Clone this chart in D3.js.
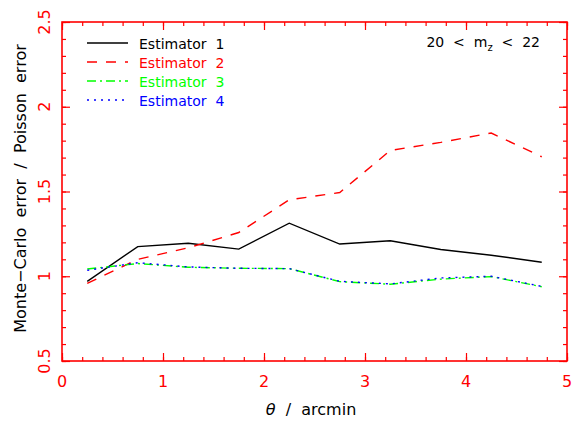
<!DOCTYPE html>
<html><head><meta charset="utf-8">
<script src="https://cdn.jsdelivr.net/npm/d3@7"></script>
<style>body{margin:0;background:#fff}svg{display:block}text{font-family:"DejaVu Sans",sans-serif;white-space:pre}</style>
</head><body>
<script>
const theta = [0.25, 0.75, 1.25, 1.75, 2.25, 2.75, 3.25, 3.75, 4.25, 4.75];
const est1 = [0.97, 1.175, 1.195, 1.16, 1.313, 1.19, 1.209, 1.158, 1.124, 1.083];
const est2 = [0.958, 1.10, 1.168, 1.258, 1.451, 1.494, 1.742, 1.79, 1.845, 1.705];
const est3 = [1.043, 1.075, 1.053, 1.047, 1.045, 0.968, 0.953, 0.983, 0.998, 0.938];
const est4 = [1.035, 1.08, 1.055, 1.047, 1.045, 0.97, 0.955, 0.99, 1.0, 0.94];
const seriesNames = ["Estimator  1", "Estimator  2", "Estimator  3", "Estimator  4"];
const seriesColors = ["#000000", "#ff0000", "#00ff00", "#0000ff"];
const seriesDash = [null, "10,9", "9,4,2,4", "2,5"];
const xTicks = [0, 1, 2, 3, 4, 5];
const yTicks = [0.5, 1, 1.5, 2, 2.5];

const W = 572, H = 422;
const L = 62, R = 567, T = 22, B = 361;
const svg = d3.select("body").append("svg").attr("width", W).attr("height", H);
const x = d3.scaleLinear().domain([0, 5]).range([L, R]);
const y = d3.scaleLinear().domain([0.5, 2.5]).range([B, T]);
const red = "#ff0000";

// data lines
const line = d3.line().x((d, i) => x(theta[i])).y(d => y(d));
[est1, est2, est3, est4].forEach((s, k) => {
  svg.append("path").datum(s).attr("d", line).attr("fill", "none")
    .attr("stroke", seriesColors[k]).attr("stroke-width", 1.4)
    .attr("stroke-dasharray", seriesDash[k]);
});

// axes (ticks inward on all four sides)
const xMinor = d3.range(0, 5.0001, 0.2);
const yMinor = d3.range(0.5, 2.5001, 0.1);
function addAxis(axisGen, tr) {
  const g = svg.append("g").attr("transform", tr).call(axisGen);
  g.selectAll("path,line").attr("stroke", red).attr("stroke-width", 1.2);
  g.select(".domain").remove();
  g.selectAll("text").remove();
  return g;
}
addAxis(d3.axisBottom(x).tickValues(xMinor).tickSize(-4).tickSizeOuter(0), `translate(0,${B})`);
addAxis(d3.axisBottom(x).tickValues(xTicks).tickSize(-8).tickSizeOuter(0), `translate(0,${B})`);
addAxis(d3.axisTop(x).tickValues(xMinor).tickSize(-4).tickSizeOuter(0), `translate(0,${T})`);
addAxis(d3.axisTop(x).tickValues(xTicks).tickSize(-8).tickSizeOuter(0), `translate(0,${T})`);
addAxis(d3.axisLeft(y).tickValues(yMinor).tickSize(-4).tickSizeOuter(0), `translate(${L},0)`);
addAxis(d3.axisLeft(y).tickValues(yTicks).tickSize(-8).tickSizeOuter(0), `translate(${L},0)`);
addAxis(d3.axisRight(y).tickValues(yMinor).tickSize(-4).tickSizeOuter(0), `translate(${R},0)`);
addAxis(d3.axisRight(y).tickValues(yTicks).tickSize(-8).tickSizeOuter(0), `translate(${R},0)`);
svg.append("rect").attr("x", L).attr("y", T).attr("width", R - L).attr("height", B - T)
  .attr("fill", "none").attr("stroke", red).attr("stroke-width", 1.6);

// tick labels
svg.selectAll(".xl").data(xTicks).enter().append("text")
  .attr("x", d => x(d)).attr("y", B + 26).attr("text-anchor", "middle")
  .attr("fill", red).attr("font-size", 16).text(d => d3.format("")(d));
svg.selectAll(".yl").data(yTicks).enter().append("text")
  .attr("transform", d => `translate(${L - 12},${y(d)}) rotate(-90)`)
  .attr("text-anchor", "middle").attr("fill", red).attr("font-size", 16)
  .text(d => d3.format("")(d));

// axis titles
svg.append("text").attr("transform", `translate(26,${(T + B) / 2 - 3}) rotate(-90)`)
  .attr("text-anchor", "middle").attr("font-size", 16).attr("fill", "#000")
  .text("Monte\u2212Carlo  error  /  Poisson  error");
const xt = svg.append("text").attr("x", 311).attr("y", 415).attr("text-anchor", "middle")
  .attr("font-size", 16).attr("fill", "#000");
xt.append("tspan").attr("font-style", "italic").text("\u03b8");
xt.append("tspan").text("  /  arcmin");

// legend
const legY = [43, 62, 81, 100];
seriesNames.forEach((n, k) => {
  svg.append("line").attr("x1", 87).attr("x2", 128).attr("y1", legY[k]).attr("y2", legY[k])
    .attr("stroke", seriesColors[k]).attr("stroke-width", 1.4).attr("stroke-dasharray", seriesDash[k]);
  svg.append("text").attr("x", 139).attr("y", legY[k] + 5.5).attr("font-size", 14)
    .attr("fill", seriesColors[k]).text(n);
});

// range label
const rl = svg.append("text").attr("x", 540).attr("y", 47).attr("text-anchor", "end")
  .attr("font-size", 14).attr("fill", "#000");
rl.append("tspan").text("20  <  m");
rl.append("tspan").attr("font-size", 10).attr("dy", 4).text("z");
rl.append("tspan").attr("dy", -4).text("  <  22");
</script>
</body></html>
